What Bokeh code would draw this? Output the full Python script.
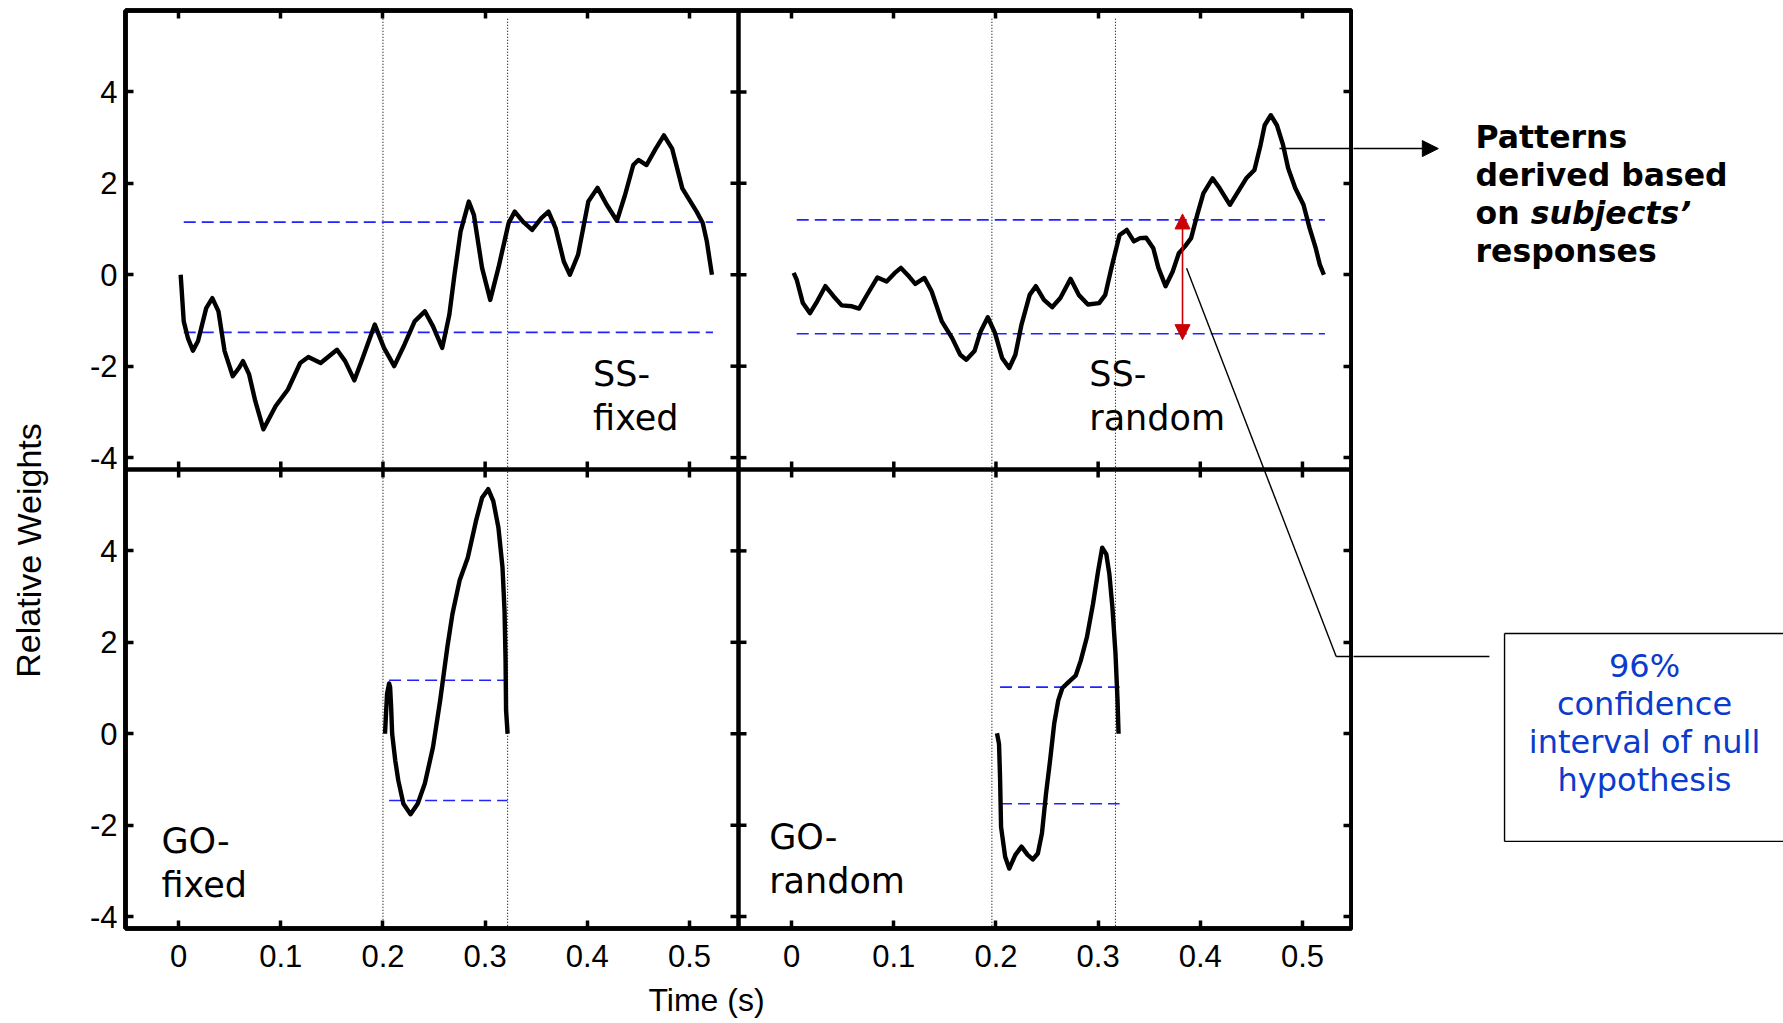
from bokeh.plotting import figure
from bokeh.layouts import row, column
from bokeh.models import Range1d, LinearAxis, FixedTicker, Span, Arrow, NormalHead
from bokeh.embed import file_html
from bokeh.resources import INLINE
from bokeh.core.properties import value

# ---------------- data ----------------
ss_fixed_t = [0.002, 0.005, 0.009, 0.014, 0.019, 0.027, 0.033, 0.039, 0.045, 0.053, 0.059, 0.063,
              0.069, 0.075, 0.083, 0.095, 0.107, 0.119, 0.127, 0.139, 0.155, 0.163, 0.172, 0.179,
              0.192, 0.201, 0.211, 0.221, 0.231, 0.241, 0.249, 0.258, 0.265, 0.270, 0.276, 0.284,
              0.289, 0.297, 0.305, 0.313, 0.323, 0.329, 0.337, 0.346, 0.355, 0.362, 0.369, 0.377,
              0.383, 0.391, 0.401, 0.410, 0.419, 0.429, 0.437, 0.445, 0.450, 0.458, 0.467, 0.475,
              0.483, 0.493, 0.499, 0.507, 0.513, 0.517, 0.520, 0.522]
ss_fixed_w = [0.00, -1.02, -1.38, -1.66, -1.45, -0.73, -0.51, -0.80, -1.67, -2.22, -2.04, -1.89,
              -2.18, -2.76, -3.38, -2.87, -2.51, -1.93, -1.80, -1.93, -1.64, -1.89, -2.31, -1.89,
              -1.09, -1.60, -2.00, -1.53, -1.02, -0.80, -1.13, -1.60, -0.87, 0.00, 0.95, 1.60,
              1.31, 0.15, -0.55, 0.15, 1.13, 1.38, 1.16, 0.98, 1.24, 1.38, 1.02, 0.29,
              0.00, 0.44, 1.60, 1.90, 1.53, 1.18, 1.75, 2.40, 2.51, 2.40, 2.76, 3.05,
              2.76, 1.89, 1.67, 1.38, 1.13, 0.73, 0.29, 0.00]

ss_random_t = [0.002, 0.005, 0.011, 0.018, 0.025, 0.033, 0.041, 0.049, 0.059, 0.066, 0.073, 0.084,
               0.093, 0.101, 0.107, 0.115, 0.121, 0.130, 0.137, 0.147, 0.157, 0.165, 0.171, 0.179,
               0.185, 0.192, 0.199, 0.206, 0.213, 0.219, 0.225, 0.233, 0.239, 0.247, 0.255, 0.263,
               0.273, 0.281, 0.290, 0.301, 0.307, 0.313, 0.321, 0.328, 0.335, 0.341, 0.347, 0.354,
               0.359, 0.366, 0.373, 0.379, 0.385, 0.391, 0.397, 0.403, 0.412, 0.419, 0.429, 0.437,
               0.445, 0.453, 0.459, 0.463, 0.469, 0.475, 0.481, 0.486, 0.493, 0.501, 0.507, 0.513,
               0.517, 0.521]
ss_random_w = [0.04, -0.11, -0.62, -0.84, -0.58, -0.25, -0.47, -0.67, -0.69, -0.74, -0.47, -0.06,
               -0.15, 0.04, 0.15, -0.04, -0.20, -0.07, -0.36, -1.02, -1.38, -1.75, -1.86, -1.67,
               -1.24, -0.93, -1.27, -1.82, -2.04, -1.75, -1.09, -0.44, -0.25, -0.55, -0.71, -0.51,
               -0.09, -0.44, -0.65, -0.62, -0.44, 0.15, 0.87, 0.98, 0.73, 0.80, 0.81, 0.58,
               0.15, -0.25, 0.07, 0.47, 0.62, 0.80, 1.31, 1.78, 2.11, 1.89, 1.53, 1.82,
               2.11, 2.29, 2.84, 3.27, 3.49, 3.27, 2.84, 2.33, 1.89, 1.53, 1.02, 0.58,
               0.22, 0.00]

go_fixed_t = [0.202, 0.203, 0.204, 0.206, 0.207, 0.208, 0.209, 0.212, 0.215, 0.220, 0.227, 0.234,
              0.241, 0.249, 0.256, 0.263, 0.268, 0.275, 0.283, 0.291, 0.297, 0.303, 0.308, 0.313,
              0.317, 0.319, 0.320, 0.3205, 0.322]
go_fixed_w = [0.00, 0.44, 0.87, 1.10, 1.02, 0.58, 0.00, -0.58, -1.02, -1.53, -1.76, -1.53,
              -1.09, -0.29, 0.73, 1.89, 2.62, 3.35, 3.85, 4.65, 5.16, 5.35, 5.09, 4.51,
              3.64, 2.69, 1.60, 0.51, 0.00]

go_random_t = [0.201, 0.203, 0.204, 0.205, 0.209, 0.213, 0.219, 0.225, 0.231, 0.236, 0.241, 0.245,
               0.249, 0.253, 0.257, 0.261, 0.265, 0.271, 0.278, 0.283, 0.289, 0.295, 0.300, 0.304,
               0.308, 0.311, 0.314, 0.317, 0.319, 0.320]
go_random_w = [0.01, -0.22, -0.95, -2.04, -2.69, -2.95, -2.65, -2.47, -2.65, -2.75, -2.62, -2.18,
               -1.31, -0.58, 0.22, 0.73, 1.00, 1.13, 1.27, 1.60, 2.11, 2.84, 3.56, 4.07,
               3.93, 3.49, 2.76, 1.75, 0.73, 0.00]

# 96% confidence interval of the null hypothesis (lower, upper) and its time span
ci_lower = [-1.26, -1.29, -1.46, -1.53]          # SS-fixed, SS-random, GO-fixed, GO-random
ci_upper = [1.15, 1.20, 1.17, 1.02]
ci_start = [0.005, 0.005, 0.206, 0.204]
ci_end = [0.523, 0.522, 0.322, 0.321]

# dotted time markers
left_markers = [0.200, 0.322]
right_markers = [0.196, 0.317]

panel_names = ["SS-\nfixed", "SS-\nrandom", "GO-\nfixed", "GO-\nrandom"]

x_ticks = [0.0, 0.1, 0.2, 0.3, 0.4, 0.5]
x_tick_labels = ["0", "0.1", "0.2", "0.3", "0.4", "0.5"]
y_ticks = [-4.0, -2.0, 0.0, 2.0, 4.0]
y_tick_labels = ["-4", "-2", "0", "2", "4"]

note_lines = ["Patterns", "derived based", "on", "responses"]
note_italic = "subjects\u2019"
box_lines = ["96%", "confidence", "interval of null", "hypothesis"]

# ---------------- layout geometry (page pixels) ----------------
x_lo, x_hi = -0.052, 0.548      # extent of one panel in time
y_lo, y_hi = -4.26, 5.78        # extent of one panel in weight
xs = x_hi - x_lo
ys = y_hi - y_lo

FL, FR, FT, FB = 125, 1351, 10, 928     # panel block edges
LW, QW, H, PH = 50, 430, 1022, 980
PW = FR + 2 - LW

ppu_x = (FR - FL) / (2 * xs)
ppu_y = (FB - FT) / (2 * ys)


def xl_at(px):
    return x_lo + (px - FL) / ppu_x


def xr_at(px):
    return xl_at(px) - xs


def yt_at(py):
    return y_hi - (py - FT) / ppu_y


p = figure(width=PW, height=PH, output_backend="svg", toolbar_location=None,
           x_range=Range1d(x_lo, x_hi + xs), y_range=Range1d(y_lo - ys, y_hi),
           min_border_left=FL - LW, min_border_right=2, min_border_top=FT,
           min_border_bottom=PH - FB)
p.extra_x_ranges = {"xR": Range1d(x_lo - xs, x_hi)}
p.extra_y_ranges = {"yB": Range1d(y_lo, y_hi + ys)}
p.xgrid.visible = False
p.ygrid.visible = False
p.background_fill_color = "white"
p.border_fill_color = "white"
p.outline_line_color = "black"
p.outline_line_width = 4.5

xt_all = x_ticks + [t + xs for t in x_ticks]
yt_all = y_ticks + [t - ys for t in y_ticks]
x_over = {t: l for t, l in zip(xt_all, x_tick_labels * 2)}
y_over = {t: l for t, l in zip(yt_all, y_tick_labels * 2)}

ax_below = p.below[0]
ax_left = p.left[0]
ax_above = LinearAxis()
ax_right = LinearAxis()
p.add_layout(ax_above, "above")
p.add_layout(ax_right, "right")

for ax, ticks, over in [(ax_below, xt_all, x_over), (ax_above, xt_all, None),
                        (ax_left, yt_all, y_over), (ax_right, yt_all, None)]:
    ax.ticker = FixedTicker(ticks=ticks)
    ax.major_tick_in = 8
    ax.major_tick_out = 0
    ax.minor_tick_line_color = None
    ax.major_tick_line_width = 3.5
    ax.major_tick_line_color = "black"
    ax.axis_line_width = 4.5
    ax.axis_line_color = "black"
    if over is None:
        ax.major_label_overrides = {t: "" for t in ticks}
        ax.major_label_text_font_size = "1px"
        ax.major_label_standoff = 0
    else:
        ax.major_label_overrides = over
        ax.major_label_text_font = "Liberation Sans"
        ax.major_label_text_font_size = "31px"
        ax.major_label_text_color = "black"

ax_left.major_label_standoff = 8
ax_below.major_label_standoff = 16

# panel separators with their inward ticks
p.add_layout(Span(location=x_hi, dimension="height", line_color="black", line_width=4.5))
p.add_layout(Span(location=y_lo, dimension="width", line_color="black", line_width=4.5))
dx = 8 / ppu_x
dy = 8 / ppu_y
p.segment(x0=[x_hi - dx] * len(yt_all), x1=[x_hi + dx] * len(yt_all), y0=yt_all, y1=yt_all,
          line_color="black", line_width=3.5)
p.segment(x0=xt_all, x1=xt_all, y0=[y_lo - dy] * len(xt_all), y1=[y_lo + dy] * len(xt_all),
          line_color="black", line_width=3.5)

# dotted time markers (run through both rows)
p.segment(x0=left_markers, x1=left_markers, y0=[5.6] * 2, y1=[y_lo - ys] * 2,
          line_color="black", line_width=1.1, line_dash="1 2")
p.segment(x0=right_markers, x1=right_markers, y0=[5.6] * 2, y1=[y_lo - ys] * 2,
          line_color="black", line_width=1.1, line_dash="1 2", x_range_name="xR")

panels = [(ss_fixed_t, ss_fixed_w, "default", "default"),
          (ss_random_t, ss_random_w, "xR", "default"),
          (go_fixed_t, go_fixed_w, "default", "yB"),
          (go_random_t, go_random_w, "xR", "yB")]
label_pos = [(0.4057, -1.74), (0.2913, -1.74), (-0.0168, -1.90), (-0.022, -1.83)]

for i, (t, w, xr, yr) in enumerate(panels):
    p.segment(x0=[ci_start[i]] * 2, x1=[ci_end[i]] * 2, y0=[ci_lower[i], ci_upper[i]],
              y1=[ci_lower[i], ci_upper[i]], line_color="#2222ff", line_width=1.6,
              line_dash="12 6", x_range_name=xr, y_range_name=yr)
    p.line(t, w, line_color="black", line_width=4.4, line_join="round",
           x_range_name=xr, y_range_name=yr)
    p.text(x=[label_pos[i][0]], y=[label_pos[i][1]], text=[panel_names[i]],
           text_font=value("DejaVu Sans"), text_font_size="35px", text_color="black",
           text_align="left", text_baseline="top", text_line_height=1.1,
           x_range_name=xr, y_range_name=yr)

# red double arrow marking the confidence interval
red = "#cc0000"
p.add_layout(Arrow(start=NormalHead(size=15, fill_color=red, line_color=red),
                   end=NormalHead(size=15, fill_color=red, line_color=red),
                   x_start=0.3826, y_start=-1.42, x_end=0.3826, y_end=1.33,
                   line_color=red, line_width=1.6, x_range_name="xR"))

# pointer / leader lines inside the panel block
ptr_y = 2.76
lead_y = -8.35
p.segment(x0=[0.4775, 0.3866, 0.533], x1=[0.58, 0.533, 0.58], y0=[ptr_y, 0.14, lead_y],
          y1=[ptr_y, lead_y, lead_y], line_color="black", line_width=1.4, x_range_name="xR")

# ---------------- side figures for the texts outside the panels ----------------
def aux(width, height, xr, yr):
    f = figure(width=width, height=height, output_backend="svg", toolbar_location=None,
               x_axis_location=None, y_axis_location=None,
               x_range=xr if not isinstance(xr, tuple) else Range1d(*xr),
               y_range=Range1d(*yr),
               min_border_left=0, min_border_right=0, min_border_top=0, min_border_bottom=0)
    f.outline_line_color = None
    f.background_fill_color = "white"
    f.border_fill_color = "white"
    f.grid.visible = False
    return f


left_fig = aux(LW, H, (xl_at(0), xl_at(LW)), (yt_at(H), yt_at(0)))
left_fig.text(x=[xl_at(28)], y=[yt_at(550)], text=["Relative Weights"], angle=1.5707963,
              text_font=value("Liberation Sans"), text_font_size="34px", text_color="black",
              text_align="center", text_baseline="middle")

# the column lines this figure's frame up with the panel block, so it shares its time range
bottom_fig = aux(PW, H - PH, p.x_range, (yt_at(H), yt_at(PH)))
bottom_fig.text(x=[xl_at(706)], y=[yt_at(999)], text=["Time (s)"],
                text_font=value("Liberation Sans"), text_font_size="32px", text_color="black",
                text_align="center", text_baseline="middle")

q = aux(QW, H, (xr_at(FR + 2), xr_at(FR + 2 + QW)), (yt_at(H), yt_at(0)))
q_x0 = xr_at(FR + 2)
q.add_layout(Arrow(end=NormalHead(size=16, fill_color="black", line_color="black"),
                   x_start=q_x0 - 0.01, y_start=ptr_y, x_end=0.633, y_end=ptr_y,
                   line_color="black", line_width=1.4))
# leader into the box, and the box itself (its right side lies beyond the picture)
bx0, bx1, by0, by1 = 0.6978, 1.1, -12.395, -7.846
q.segment(x0=[q_x0 - 0.01, bx0, bx0, bx0], x1=[0.683, bx1, bx1, bx0],
          y0=[lead_y, by1, by0, by0], y1=[lead_y, by1, by0, by1],
          line_color="black", line_width=1.4)

blue = "#0b3bcc"
box_mid = [yt_at(py) for py in (665, 703, 741, 779)]
q.text(x=[0.8348] * 4, y=box_mid, text=box_lines,
       text_font=value("DejaVu Sans"), text_font_size="32px", text_color=blue,
       text_align="center", text_baseline="middle")

note_mid = [yt_at(py) for py in (136, 174.3, 212.6, 250.9)]
q.text(x=[0.6694] * 4, y=note_mid, text=note_lines,
       text_font=value("DejaVu Sans"), text_font_size="31.5px", text_font_style="bold",
       text_color="black", text_align="left", text_baseline="middle")
q.text(x=[0.7235], y=[note_mid[2]], text=[note_italic],
       text_font=value("DejaVu Sans"), text_font_size="31.5px", text_font_style="bold italic",
       text_color="black", text_align="left", text_baseline="middle")

layout = row(left_fig, column(p, bottom_fig), q)
open("out.html", "w").write(file_html(layout, INLINE))
